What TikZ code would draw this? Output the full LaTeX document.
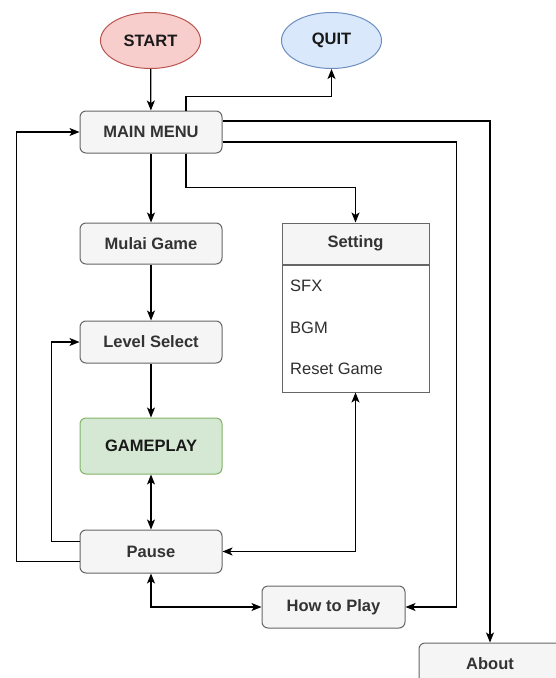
\documentclass[tikz,border=0pt]{standalone}
\usepackage{fontspec}
\setmainfont{Liberation Sans}
\usetikzlibrary{shapes.geometric,arrows.meta}
\definecolor{boxfill}{HTML}{F5F5F5}
\definecolor{boxline}{HTML}{666666}
\definecolor{boxtext}{HTML}{333333}
\definecolor{redfill}{HTML}{F8CECC}
\definecolor{redline}{HTML}{B85450}
\definecolor{bluefill}{HTML}{DAE8FC}
\definecolor{blueline}{HTML}{6C8EBF}
\definecolor{greenfill}{HTML}{D5E8D4}
\definecolor{greenline}{HTML}{82B366}
\tikzset{
  oval/.style={ellipse, draw, line width=1pt, minimum width=100pt, minimum height=56pt, inner sep=0pt, font=\fontsize{16.5}{19}\selectfont\bfseries, text=black!90},
  gbox/.style={rectangle, rounded corners=6pt, draw=boxline, fill=boxfill, line width=1pt, minimum width=142pt, minimum height=42pt, inner sep=0pt, text=boxtext, font=\fontsize{16.5}{19}\selectfont\bfseries},
  item/.style={anchor=west, inner sep=0pt, text=boxtext!90!black, font=\fontsize{16.5}{19}\selectfont},
  arr/.style={draw=black, line width=1.3pt, -{Stealth[length=10pt,width=8pt,inset=2.5pt]}},
  darr/.style={draw=black, line width=1.3pt, {Stealth[length=10pt,width=8pt,inset=2.5pt]}-{Stealth[length=10pt,width=8pt,inset=2.5pt]}}
}
\begin{document}
\begin{tikzpicture}[x=1pt,y=-1pt]
\useasboundingbox[fill=white] (0,0) rectangle (556,678);
\node[oval, fill=redfill, draw=redline] (start) at (150.5,40.5) {START};
\node[oval, fill=bluefill, draw=blueline] (quit) at (331.5,40.5) {QUIT};
\node[gbox] (menu) at (151,132) {MAIN MENU};
\node[gbox, minimum height=41pt] (mulai) at (151,243.5) {Mulai Game};
\node[gbox] (level) at (151,342) {Level Select};
\node[gbox, fill=greenfill, draw=greenline, minimum height=56pt, text=black!90] (game) at (151,446) {GAMEPLAY};
\node[gbox, minimum height=43pt] (pause) at (151,551.5) {Pause};
\node[gbox, minimum width=143pt] (howto) at (333.5,607) {How to Play};
\node[gbox] (about) at (490,664) {About};
\node[rectangle, draw=boxline, fill=boxfill, line width=1pt, minimum width=147pt, minimum height=41pt, inner sep=0pt, text=boxtext, font=\fontsize{16.5}{19}\selectfont\bfseries] (sethead) at (355.5,243.5) {Setting};
\node[rectangle, draw=boxline, fill=white, line width=1pt, minimum width=147pt, minimum height=127pt, inner sep=0pt, anchor=north] (setbody) at (sethead.south) {};
\node[item] (sfx) at (290,286) {SFX};
\node[item] (bgm) at (290,328) {BGM};
\node[item] (reset) at (290,369) {Reset Game};
% connectors
\draw[arr] (start) -- (menu);
\draw[arr] ([xshift=35pt]menu.north) -- ++(0,-14) -| (quit.south);
\draw[arr] ([yshift=11pt]menu.east) -| (about.north);
\draw[arr] ([yshift=-10pt]menu.east) -- ++(234,0) |- (howto.east);
\draw[arr] (menu) -- (mulai);
\draw[arr] ([xshift=35pt]menu.south) -- ++(0,34) -| (sethead.north);
\draw[arr] (mulai) -- (level);
\draw[arr] (level) -- (game);
\draw[darr] (game) -- (pause);
\draw[arr] ([yshift=-10pt]pause.west) -- ++(-63,0) |- (menu.west);
\draw[arr] ([yshift=10pt]pause.west) -- ++(-28,0) |- (level.west);
\draw[darr] (pause.east) -| (setbody.south);
\draw[darr] (pause.south) |- (howto.west);
\end{tikzpicture}
\end{document}
